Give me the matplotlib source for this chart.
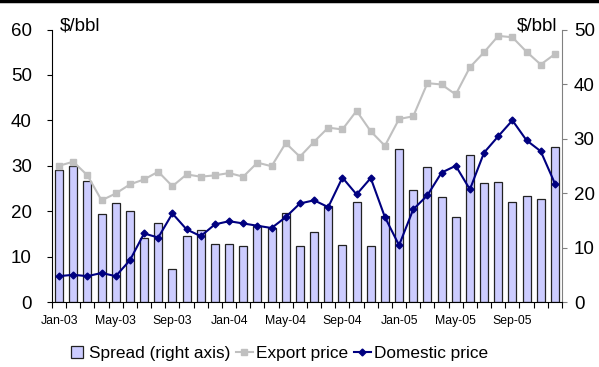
import matplotlib
matplotlib.use("Agg")
import matplotlib.pyplot as plt
from matplotlib.lines import Line2D

plt.rcParams["font.family"] = ["Liberation Sans", "DejaVu Sans"]

# monthly values, Jan-03 .. Dec-05 ($/bbl)
export_price = [30.0, 30.9, 27.9, 22.4, 23.9, 25.9, 27.0, 28.7, 25.5, 28.1, 27.6, 27.9,
                28.4, 27.6, 30.7, 29.9, 35.0, 32.0, 35.3, 38.4, 38.0, 42.1, 37.6, 34.4,
                40.3, 40.9, 48.2, 47.9, 45.7, 51.7, 55.0, 58.6, 58.3, 55.1, 52.3, 54.6]
domestic_price = [5.7, 6.0, 5.7, 6.4, 5.7, 9.2, 15.1, 14.2, 19.5, 16.0, 14.5, 17.1,
                  17.8, 17.3, 16.8, 16.3, 18.7, 21.7, 22.4, 20.9, 27.4, 23.7, 27.3, 18.7,
                  12.5, 20.4, 23.5, 28.5, 30.0, 24.8, 32.9, 36.5, 40.0, 35.6, 33.2, 26.1]
spread = [24.3, 24.9, 22.3, 16.2, 18.2, 16.7, 11.8, 14.5, 6.0, 12.1, 13.3, 10.7,
          10.6, 10.2, 14.0, 13.5, 16.3, 10.2, 12.9, 17.6, 10.5, 18.4, 10.2, 15.7,
          28.0, 20.5, 24.8, 19.3, 15.6, 26.9, 21.9, 22.0, 18.3, 19.5, 18.9, 28.5]
tick_labels = ["Jan-03", "May-03", "Sep-03", "Jan-04", "May-04", "Sep-04",
               "Jan-05", "May-05", "Sep-05"]

n = len(export_price)
x = list(range(n))
bar_col = "#ccccff"

fig = plt.figure(figsize=(5.99, 3.67), dpi=100)
ax2 = fig.add_axes([0.0868, 0.177, 0.8514, 0.7425])
ax = ax2.twinx()
ax.yaxis.tick_left()
ax2.yaxis.tick_right()
ax.set_zorder(ax2.get_zorder() + 1)
ax.patch.set_visible(False)

ax2.bar(x, spread, width=0.57, color=bar_col, edgecolor="#222222", linewidth=0.9)
l1, = ax.plot(x, export_price, color="#c0c0c0", lw=1.5, marker="s", ms=4.5)
l2, = ax.plot(x, domestic_price, color="#000080", lw=1.5, marker="D", ms=3.5)

ax.set_ylim(0, 60)
ax2.set_ylim(0, 50)
ax.set_xlim(-0.5, n - 0.5)
ax.set_yticks(range(0, 61, 10))
ax2.set_yticks(range(0, 51, 10))

for a in (ax, ax2):
    a.spines["top"].set_visible(False)
ax.spines["right"].set_visible(False)
ax.spines["bottom"].set_visible(False)
ax2.spines["left"].set_visible(False)
ax.spines["left"].set_color("black")
ax2.spines["right"].set_color("#808080")
ax2.spines["bottom"].set_color("black")

ax.tick_params(axis="y", labelsize=13.5, length=3.5, pad=11, labelleft=True,
               labelright=False, right=False, left=True)
ax2.tick_params(axis="y", labelsize=13.5, length=3.5, pad=5, color="#808080",
                labelright=True, labelleft=False, left=False, right=True)

# month boundaries get ticks, every 4th month gets a label
ax2.set_xticks([i - 0.5 for i in range(n + 1)])
ax2.set_xticklabels([])
ax2.set_xticks(x[::4], minor=True)
ax2.set_xticklabels(tick_labels, minor=True)
ax2.tick_params(axis="x", which="major", length=4, direction="out")
ax2.tick_params(axis="x", which="minor", length=0, labelsize=8.8, pad=9)
ax.tick_params(axis="x", bottom=False, labelbottom=False)

fig.text(0.10, 0.93, "$/bbl", fontsize=13.5, va="center", ha="left")
fig.text(0.93, 0.93, "$/bbl", fontsize=13.5, va="center", ha="right")

# square marker as legend key so the box stays small
sq = Line2D([], [], ls="none", marker="s", ms=9, mfc=bar_col, mec="#222222", mew=0.9)
fig.legend([sq, l1, l2], ["Spread (right axis)", "Export price", "Domestic price"],
           loc="center", bbox_to_anchor=(0.465, 0.038), ncol=3, frameon=False,
           fontsize=12.4, handlelength=1.0, handletextpad=0.2, columnspacing=0.3,
           borderaxespad=0)

fig.add_artist(Line2D([0, 1], [0.997, 0.997], transform=fig.transFigure,
                      color="black", lw=2.5))

fig.savefig("out.png", dpi=100)
